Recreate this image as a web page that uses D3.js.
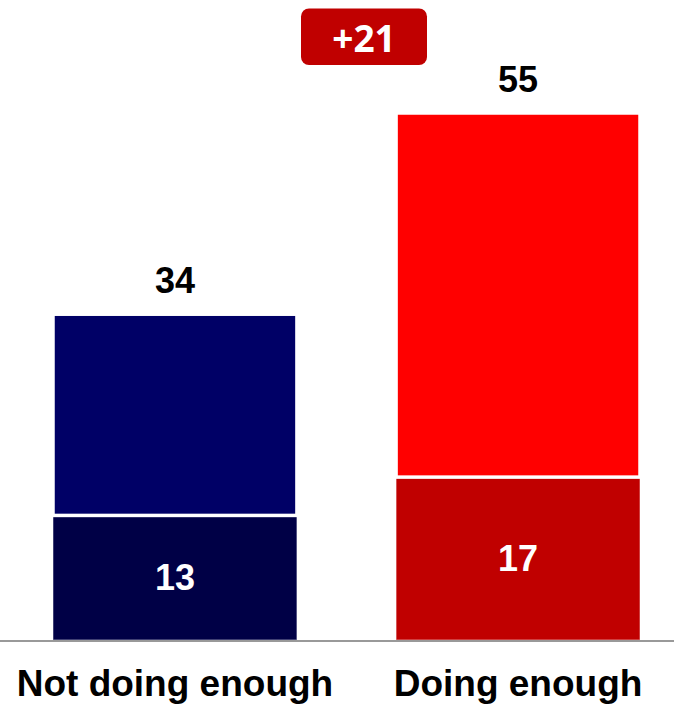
<!DOCTYPE html>
<html><head><meta charset="utf-8">
<script src="https://cdn.jsdelivr.net/npm/d3@7"></script>
<style>html,body{margin:0;padding:0;background:#fff;}svg{display:block;}</style>
</head><body>
<script>
const categories = ["Not doing enough", "Doing enough"];
const totals = [34, 55];
const baseValues = [13, 17];
const topColors = ["#000066", "#FF0000"];
const baseColors = ["#000046", "#C00000"];
const diffLabel = "+21";

const W = 674, H = 704;
const svg = d3.select("body").append("svg").attr("width", W).attr("height", H);

const x = d3.scaleBand().domain(categories).range([53, 640]).paddingInner(0.289).paddingOuter(0);
const y = d3.scaleLinear().domain([0, 55]).range([640, 113]);

const data = categories.map((c, i) => ({c, total: totals[i], base: baseValues[i], i}));

// base segments
svg.selectAll("rect.base").data(data).enter().append("rect")
  .attr("x", d => x(d.c)).attr("width", x.bandwidth())
  .attr("y", d => y(d.base)).attr("height", d => y(0) - y(d.base))
  .attr("fill", d => baseColors[d.i]).attr("stroke", "#fff").attr("stroke-width", 1).attr("stroke-opacity", 0.5);

// top segments
svg.selectAll("rect.top").data(data).enter().append("rect")
  .attr("x", d => x(d.c)).attr("width", x.bandwidth())
  .attr("y", d => y(d.total)).attr("height", d => y(d.base) - y(d.total))
  .attr("fill", d => topColors[d.i]).attr("stroke", "#fff").attr("stroke-width", 3.5);

// baseline
svg.append("line").attr("x1", 0).attr("x2", W).attr("y1", y(0) + 1).attr("y2", y(0) + 1)
  .attr("stroke", "#999").attr("stroke-width", 2);

const font = "'Liberation Sans', Arial, sans-serif";

// total labels
svg.selectAll("text.total").data(data).enter().append("text")
  .attr("x", d => x(d.c) + x.bandwidth() / 2).attr("y", d => y(d.total) - 21)
  .attr("text-anchor", "middle").attr("font-family", font).attr("font-weight", "bold")
  .attr("font-size", 36).attr("fill", "#000").text(d => d.total);

// base labels
svg.selectAll("text.base").data(data).enter().append("text")
  .attr("x", d => x(d.c) + x.bandwidth() / 2).attr("y", d => (y(d.base) + y(0)) / 2 + 12)
  .attr("text-anchor", "middle").attr("font-family", font).attr("font-weight", "bold")
  .attr("font-size", 36).attr("fill", "#fff").text(d => d.base);

// category labels
svg.selectAll("text.cat").data(data).enter().append("text")
  .attr("x", d => x(d.c) + x.bandwidth() / 2).attr("y", 696)
  .attr("text-anchor", "middle").attr("font-family", font).attr("font-weight", "bold")
  .attr("font-size", 37).attr("fill", "#000").text(d => d.c);

// difference badge
const badge = svg.append("g");
badge.append("rect").attr("x", 301).attr("y", 8.5).attr("width", 126).attr("height", 56.5)
  .attr("rx", 8).attr("fill", "#C00000");
badge.append("text").attr("x", 364).attr("y", 52).attr("text-anchor", "middle")
  .attr("font-family", "'Open Sans', sans-serif").attr("font-weight", "bold")
  .attr("font-size", 37).attr("fill", "#fff").text(diffLabel);
</script>
</body></html>
